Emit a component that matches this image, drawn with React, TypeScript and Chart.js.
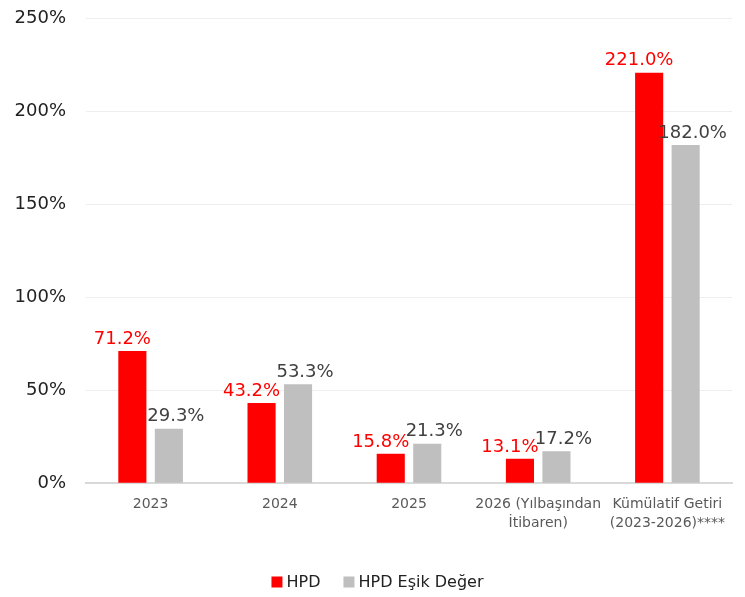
import React, { useEffect, useRef } from "react";
import { Chart, registerables } from "chart.js";

Chart.register(...registerables);

const categories: (string | string[])[] = [
  "2023",
  "2024",
  "2025",
  ["2026 (Yılbaşından", "İtibaren)"],
  ["Kümülatif Getiri", "(2023-2026)****"],
];
const hpdValues = [71.2, 43.2, 15.8, 13.1, 221.0];
const esikValues = [29.3, 53.3, 21.3, 17.2, 182.0];
const seriesNames = ["HPD", "HPD Eşik Değer"];
const seriesColors = ["#ff0000", "#bfbfbf"];
const yTicks = [0, 50, 100, 150, 200, 250];

const FONT = "'DejaVu Sans', sans-serif";
const SHIFT = 12;

const labelPlugin = {
  id: "barLabels",
  afterDatasetsDraw(chart: any) {
    const ctx = chart.ctx;
    ctx.save();
    ctx.font = `18px ${FONT}`;
    ctx.textAlign = "center";
    ctx.textBaseline = "bottom";
    chart.data.datasets.forEach((ds: any, i: number) => {
      const meta = chart.getDatasetMeta(i);
      ctx.fillStyle = i === 0 ? "#ff0000" : "#404040";
      const dx = i === 0 ? -10 : 7;
      meta.data.forEach((bar: any, j: number) => {
        ctx.fillText(ds.data[j].toFixed(1) + "%", bar.x + dx, bar.y - 3);
      });
    });
    ctx.restore();
  },
};

const legendPlugin = {
  id: "customLegend",
  afterDraw(chart: any) {
    const ctx = chart.ctx;
    ctx.save();
    ctx.font = `16px ${FONT}`;
    ctx.textBaseline = "middle";
    const box = 11;
    const gapBoxText = 4;
    const gapItems = 23;
    const widths = chart.data.datasets.map(
      (ds: any) => box + gapBoxText + ctx.measureText(ds.label).width
    );
    const total = widths.reduce((a: number, b: number) => a + b, 0) + gapItems * (widths.length - 1);
    let x = (chart.width - total) / 2 + 5;
    const y = 582 + SHIFT;
    chart.data.datasets.forEach((ds: any, i: number) => {
      ctx.fillStyle = ds.backgroundColor;
      ctx.fillRect(x, y - box / 2, box, box);
      ctx.fillStyle = "#222222";
      ctx.textAlign = "left";
      ctx.fillText(ds.label, x + box + gapBoxText, y + 1);
      x += widths[i] + gapItems;
    });
    ctx.restore();
  },
};

export default function App() {
  const ref = useRef<HTMLCanvasElement>(null);
  useEffect(() => {
    document.body.style.margin = "0";
    const chart = new Chart(ref.current!, {
      type: "bar",
      data: {
        labels: categories,
        datasets: [
          { label: seriesNames[0], data: hpdValues, backgroundColor: seriesColors[0] },
          { label: seriesNames[1], data: esikValues, backgroundColor: seriesColors[1] },
        ],
      },
      plugins: [labelPlugin, legendPlugin],
      options: {
        animation: false,
        responsive: false,
        maintainAspectRatio: false,
        layout: { padding: { top: 0, right: 13, left: 0, bottom: 52 } },
        datasets: { bar: { categoryPercentage: 0.565, barPercentage: 0.77 } },
        scales: {
          x: {
            grid: { display: false, drawTicks: false },
            border: { display: true, color: "#d9d9d9", width: 2 },
            ticks: {
              color: "#595959",
              font: { family: FONT, size: 14, lineHeight: 1.35 },
              maxRotation: 0,
              autoSkip: false,
              padding: 12,
            },
          },
          y: {
            min: 0,
            max: 250,
            afterBuildTicks: (s: any) => {
              s.ticks = yTicks.map((v) => ({ value: v }));
            },
            afterFit: (s: any) => {
              s.width = 86;
            },
            grid: { color: "#eeeeee", drawTicks: false },
            border: { display: false },
            ticks: {
              color: "#222222",
              font: { family: FONT, size: 18 },
              padding: 20,
              callback: (v: any) => v + "%",
            },
          },
        },
        plugins: {
          legend: { display: false },
          tooltip: { enabled: false },
        },
      },
    });
    return () => chart.destroy();
  }, []);
  return (
    <div style={{ width: 745, height: 597, overflow: "hidden", position: "relative" }}>
      <canvas
        ref={ref}
        width={745}
        height={597 + SHIFT}
        style={{ position: "absolute", left: 0, top: -SHIFT }}
      />
    </div>
  );
}
